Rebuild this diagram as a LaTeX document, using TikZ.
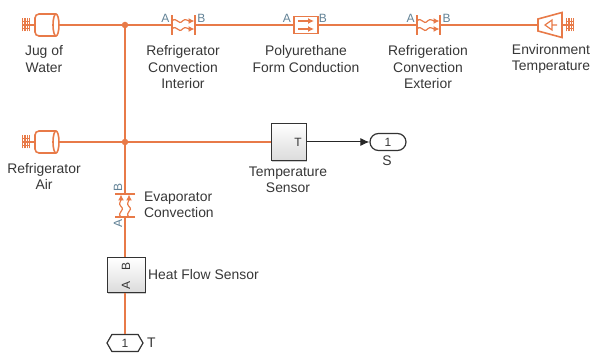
\documentclass[tikz,border=0pt]{standalone}
\usepackage{fontspec}
\setmainfont{Liberation Sans}
\usetikzlibrary{arrows.meta,shadows,shapes.misc,shapes.symbols}
\definecolor{wirecol}{RGB}{232,122,72}
\definecolor{portcol}{RGB}{98,130,150}
\definecolor{textcol}{RGB}{55,55,55}
\tikzset{
  wire/.style={draw=wirecol,line width=1.6pt},
  sig/.style={draw=black!85,line width=1pt,-{Latex[length=9pt,width=8pt]}},
  lbl/.style={text=textcol,font=\fontsize{13.9}{16.5}\selectfont,align=center,inner sep=0pt},
  portlbl/.style={text=portcol,font=\fontsize{12}{12}\selectfont,inner sep=0pt},
  junction/.style={circle,fill=wirecol,inner sep=0pt,minimum size=6.5pt},
  sensorbox/.style={draw=black!80,line width=1pt,top color=white,bottom color=black!14,
    drop shadow={shadow xshift=1.2pt,shadow yshift=-1.2pt,opacity=.4},inner sep=0pt},
  ioport/.style={draw=black!80,line width=1.2pt,fill=white,text=textcol,inner sep=0pt,
    font=\fontsize{12}{12}\selectfont},
  roundport/.style={ioport,rounded rectangle,minimum width=36pt,minimum height=17pt},
  hexport/.style={ioport,signal,signal to=east and west,signal pointer angle=120,minimum width=36pt,minimum height=17pt},
  comb/.pic={
    \draw[wire,line width=1.2pt] (0,0) -- (8,0) (0,-3.5) -- (8,-3.5) (0,3.5) -- (8,3.5);
    \foreach \cx in {.8,3,5.2,7.4} \draw[wire,line width=1.2pt] (\cx,-6.5) -- (\cx,6.5);
  },
  mass/.pic={
    \draw[wire,rounded corners=4pt] (9,11) -- (-12,11) -- (-12,-11) -- (9,-11);
    \draw[wire] (9,0) ellipse [x radius=3,y radius=11];
    \draw[wire] (-12,0) -- (-17,0);
    \pic at (-25,0) {comb};
    \coordinate (-port) at (12,0);
  },
  tempsource/.pic={
    \draw[wire] (-12,-6) -- (-12,6) -- (12,12.5) -- (12,-12.5) -- cycle;
    \draw[wire,line width=1.2pt] (-5,0) -- (2,5) -- (2,-5) -- cycle (2,0) -- (7,0);
    \draw[wire] (12,0) -- (16,0);
    \pic at (16,0) {comb};
    \coordinate (-port) at (-12,0);
  },
  convect/.pic={
    \draw[wire,line width=2.8pt] (-11.5,-10) -- (-11.5,10) (11.5,-10) -- (11.5,10);
    \foreach \wy in {-4,4} {
      \draw[wire,line width=1.2pt,-{Latex[length=6pt,width=6pt]}] (-11.5,\wy) .. controls (-7,\wy+5) and (-5,\wy-5) .. (-1,\wy) .. controls (2,\wy+3) and (4,\wy) .. (11,\wy);
    }
    \node[portlbl,transform shape] (-alabel) at (-18,7) {A};
    \node[portlbl,transform shape] (-blabel) at (18,7) {B};
    \coordinate (-a) at (-11.5,0);
    \coordinate (-b) at (11.5,0);
  },
  conduct/.pic={
    \draw[wire] (-12,-8.5) rectangle (12,8.5);
    \foreach \wy in {-4,4} {
      \draw[wire,line width=1.2pt,-{Latex[length=6pt,width=6pt]}] (-8,\wy) -- (8,\wy);
    }
    \node[portlbl] (-alabel) at (-19,7) {A};
    \node[portlbl] (-blabel) at (17,7) {B};
    \coordinate (-a) at (-12,0);
    \coordinate (-b) at (12,0);
  }
}
\begin{document}
\begin{tikzpicture}[x=1pt,y=1pt]
  \useasboundingbox (0,0) rectangle (590,-358);
  % top row
  \pic (jug) at (47,-25) {mass};
  \node[junction] (jtop) at (125,-25) {};
  \pic (convint) at (183.5,-25) {convect};
  \pic (foam) at (306,-25) {conduct};
  \pic (convext) at (428.5,-25) {convect};
  \pic (envtemp) at (550,-25) {tempsource};
  \node[lbl] (jugname) at (44,-59) {Jug of\\Water};
  \node[lbl] (convintname) at (183,-67.5) {Refrigerator\\Convection\\Interior};
  \node[lbl] (foamname) at (306,-59) {Polyurethane\\Form Conduction};
  \node[lbl] (convextname) at (428,-67.5) {Refrigeration\\Convection\\Exterior};
  \node[lbl] (envname) at (551,-59) {Environment\\Temperature};
  % second row
  \pic (air) at (47,-142) {mass};
  \node[junction] (jair) at (125,-142) {};
  \node[sensorbox,minimum width=35pt,minimum height=37pt] (tsens) at (288.5,-142) {};
  \node[portlbl,text=textcol] (tsenst) at (298,-142) {T};
  \node[roundport] (outs) at (388,-142) {1};
  \node[lbl] (airname) at (44,-176.5) {Refrigerator\\Air};
  \node[lbl] (tsensname) at (288,-180) {Temperature\\Sensor};
  \node[lbl] (outsname) at (387,-161) {S};
  % column
  \pic[rotate=90] (evap) at (125,-205.5) {convect};
  \node[lbl,align=left,anchor=west] (evapname) at (144,-205) {Evaporator\\Convection};
  \node[sensorbox,minimum width=38pt,minimum height=35pt] (hfs) at (126,-275.5) {};
  \node[portlbl,text=textcol,rotate=90] (hfsb) at (126,-266) {B};
  \node[portlbl,text=textcol,rotate=90] (hfsa) at (126,-285) {A};
  \node[lbl,anchor=west] (hfsname) at (148,-275) {Heat Flow Sensor};
  \node[hexport] (outt) at (125,-343) {1};
  \node[lbl,anchor=west] (outtname) at (147,-343) {T};
  % wires
  \draw[wire] (jug-port) -- (jtop) -- (convint-a);
  \draw[wire] (convint-b) -- (foam-a);
  \draw[wire] (foam-b) -- (convext-a);
  \draw[wire] (convext-b) -- (envtemp-port);
  \draw[wire] (air-port) -- (jair) -- (tsens.west);
  \draw[wire] (jtop) -- (jair) -- (evap-b);
  \draw[wire] (evap-a) -- (hfs.north -| evap-a);
  \draw[wire] (hfs.south -| outt.north) -- (outt.north);
  \draw[sig] (tsens.east) -- (outs.west);
\end{tikzpicture}
\end{document}
